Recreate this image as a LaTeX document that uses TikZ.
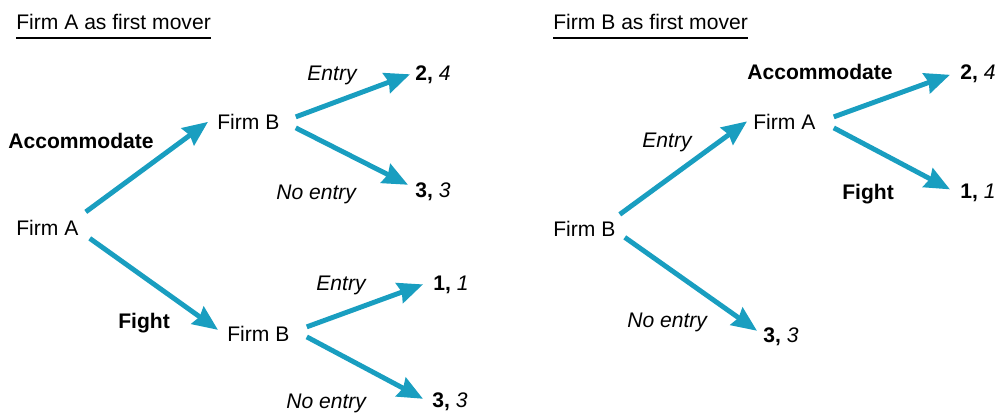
\documentclass[tikz,border=0pt]{standalone}
\usepackage{fontspec}
\setmainfont{Liberation Sans}
\usetikzlibrary{arrows.meta}
\definecolor{branchblue}{RGB}{25,158,192}
\tikzset{
  txt/.style={anchor=base west, inner sep=0pt, font=\fontsize{12pt}{14pt}\selectfont},
  firm/.style={txt},
  strat/.style={txt, font=\fontsize{12pt}{14pt}\selectfont\bfseries},
  act/.style={txt, font=\fontsize{12pt}{14pt}\selectfont\itshape},
  pay/.style={txt},
  heading/.style={txt},
  branch/.style={branchblue, line width=2.8pt,
    -{Stealth[length=0.5cm,width=0.42cm,inset=0.05cm]}},
}
\newcommand{\payoff}[2]{\textbf{#1,} \textit{#2}}
\begin{document}
\begin{tikzpicture}[x=0.02cm, y=-0.02cm]
\useasboundingbox (0,0) rectangle (1000,414);

% left: Firm A moves first
\node[heading] (titleA) at (16,29) {Firm A as first mover};
\draw[line width=1.1pt] ([shift={(0,8)}]titleA.south west) -- ([shift={(0,8)}]titleA.south east);
\node[firm] (rootA) at (16,235.5) {Firm A};
\node[firm] (upB) at (217,129.5) {Firm B};
\node[firm] (loB) at (227,341) {Firm B};
\node[strat] (accA) at (8,148) {Accommodate};
\node[strat] (fightA) at (118,328) {Fight};
\node[act] (entA1) at (307,80) {Entry};
\node[act] (noA1) at (276,199) {No entry};
\node[act] (entA2) at (316,290) {Entry};
\node[act] (noA2) at (286,408) {No entry};
\node[pay] (payA1) at (415,80) {\payoff{2}{4}};
\node[pay] (payA2) at (415,197) {\payoff{3}{3}};
\node[pay] (payA3) at (433,290) {\payoff{1}{1}};
\node[pay] (payA4) at (432,407) {\payoff{3}{3}};

\draw[branch] ([shift={(7,-8)}]rootA.north east) -- ([shift={(-9,0)}]upB.west);
\draw[branch] ([shift={(11,2.5)}]rootA.south east) -- ([shift={(-9,-3.5)}]loB.west);
\draw[branch] ([shift={(16,-5)}]upB.east) -- ([shift={(-5,0)}]payA1.west);
\draw[branch] ([shift={(16,6)}]upB.east) -- ([shift={(-7,-6.5)}]payA2.west);
\draw[branch] ([shift={(17,-6.5)}]loB.east) -- ([shift={(-10,0)}]payA3.west);
\draw[branch] ([shift={(17,3.5)}]loB.east) -- ([shift={(-9,-2.5)}]payA4.west);

% right: Firm B moves first
\node[heading] (titleB) at (553,29) {Firm B as first mover};
\draw[line width=1.1pt] ([shift={(0,8)}]titleB.south west) -- ([shift={(0,8)}]titleB.south east);
\node[firm] (rootB) at (553,236) {Firm B};
\node[firm] (midA) at (753,129) {Firm A};
\node[act] (entB) at (642,147) {Entry};
\node[act] (noB) at (627,327) {No entry};
\node[strat] (accB) at (747,79) {Accommodate};
\node[strat] (fightB) at (842,199) {Fight};
\node[pay] (payB1) at (960,79) {\payoff{2}{4}};
\node[pay] (payB2) at (960,198) {\payoff{1}{1}};
\node[pay] (payB3) at (763,342) {\payoff{3}{3}};

\draw[branch] ([shift={(4,-6)}]rootB.north east) -- ([shift={(-6,0)}]midA.west);
\draw[branch] ([shift={(9,1)}]rootB.south east) -- ([shift={(-6,-5.5)}]payB3.west);
\draw[branch] ([shift={(18,-4.5)}]midA.east) -- ([shift={(-10,1.5)}]payB1.west);
\draw[branch] ([shift={(18,6.5)}]midA.east) -- ([shift={(-10,-3)}]payB2.west);
\end{tikzpicture}
\end{document}
